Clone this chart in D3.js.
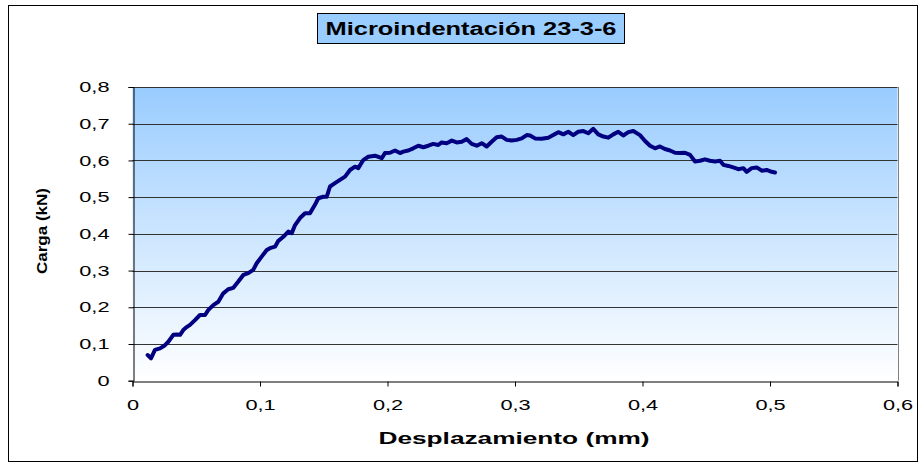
<!DOCTYPE html>
<html>
<head>
<meta charset="utf-8">
<script src="https://cdn.jsdelivr.net/npm/d3@7/dist/d3.min.js"></script>
<style>
  html, body { margin: 0; padding: 0; background: #ffffff; }
  svg { display: block; font-family: "Liberation Sans", Arial, sans-serif; }
</style>
</head>
<body>
<svg id="chart" width="924" height="465"></svg>
<script>
// Microindentation test: load (kN) against displacement (mm)
const chartTitle = "Microindentación 23-3-6";
const xTitle = "Desplazamiento (mm)";
const yTitle = "Carga (kN)";

const xTicks = [0, 0.1, 0.2, 0.3, 0.4, 0.5, 0.6];
const yTicks = [0, 0.1, 0.2, 0.3, 0.4, 0.5, 0.6, 0.7, 0.8];

const displacement = [
  0.0119, 0.0145, 0.0176, 0.0216, 0.0249, 0.0281, 0.0320, 0.0347, 0.0373, 0.0398,
  0.0425, 0.0451, 0.0490, 0.0529, 0.0569, 0.0595, 0.0634, 0.0673, 0.0712, 0.0751,
  0.0791, 0.0830, 0.0869, 0.0908, 0.0947, 0.0974, 0.1013, 0.1053, 0.1078, 0.1118,
  0.1144, 0.1183, 0.1222, 0.1249, 0.1275, 0.1314, 0.1353, 0.1392, 0.1431, 0.1457,
  0.1496, 0.1523, 0.1549, 0.1588, 0.1627, 0.1667, 0.1706, 0.1745, 0.1771, 0.1810,
  0.1849, 0.1902, 0.1955, 0.1980, 0.2020, 0.2059, 0.2098, 0.2124, 0.2163, 0.2202,
  0.2242, 0.2281, 0.2320, 0.2359, 0.2398, 0.2425, 0.2464, 0.2504, 0.2543, 0.2582,
  0.2621, 0.2660, 0.2700, 0.2739, 0.2778, 0.2817, 0.2856, 0.2896, 0.2935, 0.2974,
  0.3013, 0.3053, 0.3092, 0.3118, 0.3157, 0.3209, 0.3261, 0.3300, 0.3340, 0.3379,
  0.3418, 0.3457, 0.3496, 0.3536, 0.3575, 0.3614, 0.3653, 0.3693, 0.3732, 0.3771,
  0.3810, 0.3849, 0.3889, 0.3928, 0.3980, 0.4020, 0.4059, 0.4098, 0.4137, 0.4176,
  0.4216, 0.4255, 0.4294, 0.4333, 0.4373, 0.4412, 0.4451, 0.4490, 0.4529, 0.4569,
  0.4608, 0.4634, 0.4673, 0.4712, 0.4751, 0.4791, 0.4817, 0.4856, 0.4896, 0.4935,
  0.4974, 0.5013, 0.5039
];

const load = [
  0.070, 0.061, 0.084, 0.088, 0.095, 0.106, 0.125, 0.126, 0.125, 0.138,
  0.146, 0.152, 0.165, 0.179, 0.179, 0.193, 0.206, 0.215, 0.238, 0.249,
  0.253, 0.270, 0.288, 0.293, 0.302, 0.320, 0.338, 0.356, 0.361, 0.365,
  0.381, 0.392, 0.406, 0.402, 0.424, 0.443, 0.456, 0.456, 0.479, 0.497,
  0.501, 0.501, 0.529, 0.538, 0.547, 0.556, 0.574, 0.583, 0.579, 0.601,
  0.610, 0.613, 0.606, 0.620, 0.621, 0.627, 0.620, 0.624, 0.627, 0.633,
  0.640, 0.636, 0.640, 0.645, 0.642, 0.649, 0.647, 0.654, 0.649, 0.651,
  0.658, 0.645, 0.640, 0.647, 0.638, 0.651, 0.663, 0.665, 0.656, 0.654,
  0.656, 0.660, 0.669, 0.668, 0.660, 0.659, 0.662, 0.669, 0.677, 0.671,
  0.678, 0.669, 0.678, 0.680, 0.674, 0.686, 0.671, 0.665, 0.662, 0.671,
  0.678, 0.668, 0.677, 0.680, 0.669, 0.653, 0.640, 0.633, 0.638, 0.631,
  0.627, 0.621, 0.620, 0.621, 0.615, 0.597, 0.599, 0.603, 0.599, 0.597,
  0.599, 0.588, 0.585, 0.581, 0.576, 0.579, 0.569, 0.579, 0.581, 0.572,
  0.574, 0.569, 0.567
];

const svg = d3.select("#chart");

const plot = { left: 132.5, right: 897.5, top: 87, bottom: 380.7 };

const x = d3.scaleLinear().domain([0, 0.6]).range([plot.left, plot.right]);
const y = d3.scaleLinear().domain([0, 0.8]).range([plot.bottom, plot.top]);

const fmt = d => d === 0 ? "0" : d3.format(".1f")(d).replace(".", ",");

// Outer chart frame
svg.append("rect")
  .attr("x", 8.5).attr("y", 5.5)
  .attr("width", 909).attr("height", 456)
  .attr("fill", "#ffffff")
  .attr("stroke", "#000000").attr("stroke-width", 1);

// Plot area background: blue fading to white
const defs = svg.append("defs");
const grad = defs.append("linearGradient")
  .attr("id", "plotFill")
  .attr("x1", 0).attr("y1", 0).attr("x2", 0).attr("y2", 1);
grad.append("stop").attr("offset", "0%").attr("stop-color", "#99ccff");
grad.append("stop").attr("offset", "100%").attr("stop-color", "#ffffff");

svg.append("rect")
  .attr("x", plot.left).attr("y", plot.top)
  .attr("width", plot.right - plot.left)
  .attr("height", plot.bottom - plot.top)
  .attr("fill", "url(#plotFill)");

// Horizontal gridlines
svg.append("g")
  .selectAll("line")
  .data(yTicks.filter(d => d > 0))
  .join("line")
  .attr("x1", plot.left).attr("x2", plot.right)
  .attr("y1", d => Math.round(y(d)) + 0.5)
  .attr("y2", d => Math.round(y(d)) + 0.5)
  .attr("stroke", "#333333").attr("stroke-width", 1);

// Right edge of plot area
svg.append("line")
  .attr("x1", Math.round(plot.right) + 0.5).attr("x2", Math.round(plot.right) + 0.5)
  .attr("y1", plot.top).attr("y2", plot.bottom)
  .attr("stroke", "#808080").attr("stroke-width", 1);

// Axes
const xAxis = svg.append("g")
  .attr("transform", `translate(0,${Math.round(plot.bottom) + 0.5})`)
  .call(d3.axisBottom(x).tickValues(xTicks).tickFormat(fmt).tickSize(5).tickPadding(10));

const yAxis = svg.append("g")
  .attr("transform", `translate(${Math.round(plot.left) + 0.5},0)`)
  .call(d3.axisLeft(y).tickValues(yTicks).tickFormat(fmt).tickSize(5).tickPadding(19));

[xAxis, yAxis].forEach(g => {
  g.select(".domain").attr("stroke", "#000000").attr("stroke-width", 1);
  g.selectAll(".tick line").attr("stroke", "#000000");
  g.selectAll(".tick text")
    .attr("fill", "#000000")
    .style("font-family", "'Liberation Sans', Arial, sans-serif")
    .style("font-size", "14.5px");
});
xAxis.selectAll(".tick text").attr("dy", "0.9em");

// Stretch tick labels horizontally
function stretch(sel, factor) {
  sel.each(function () {
    const w = this.getComputedTextLength();
    d3.select(this)
      .attr("textLength", w * factor)
      .attr("lengthAdjust", "spacingAndGlyphs");
  });
}
stretch(xAxis.selectAll(".tick text"), 1.5);
stretch(yAxis.selectAll(".tick text"), 1.5);

// Load–displacement curve
const points = displacement.map((d, i) => [d, load[i]]);
svg.append("path")
  .datum(points)
  .attr("fill", "none")
  .attr("stroke", "#000080")
  .attr("stroke-width", 4)
  .attr("stroke-linejoin", "round")
  .attr("stroke-linecap", "round")
  .attr("d", d3.line().x(d => x(d[0])).y(d => y(d[1])));

// Title box
svg.append("rect")
  .attr("x", 317.5).attr("y", 13.5)
  .attr("width", 307).attr("height", 30)
  .attr("fill", "#99ccff")
  .attr("stroke", "#000000").attr("stroke-width", 1);

svg.append("text")
  .attr("x", 471).attr("y", 35)
  .attr("text-anchor", "middle")
  .attr("font-weight", "bold")
  .attr("font-size", "18px")
  .attr("textLength", 291)
  .attr("lengthAdjust", "spacingAndGlyphs")
  .text(chartTitle);

// Axis titles
svg.append("text")
  .attr("x", 514).attr("y", 444)
  .attr("text-anchor", "middle")
  .attr("font-weight", "bold")
  .attr("font-size", "16px")
  .attr("textLength", 271)
  .attr("lengthAdjust", "spacingAndGlyphs")
  .text(xTitle);

svg.append("text")
  .attr("transform", "translate(47,231) rotate(-90)")
  .attr("text-anchor", "middle")
  .attr("font-weight", "bold")
  .attr("font-size", "14.5px")
  .attr("textLength", 86)
  .attr("lengthAdjust", "spacingAndGlyphs")
  .text(yTitle);
</script>
</body>
</html>
